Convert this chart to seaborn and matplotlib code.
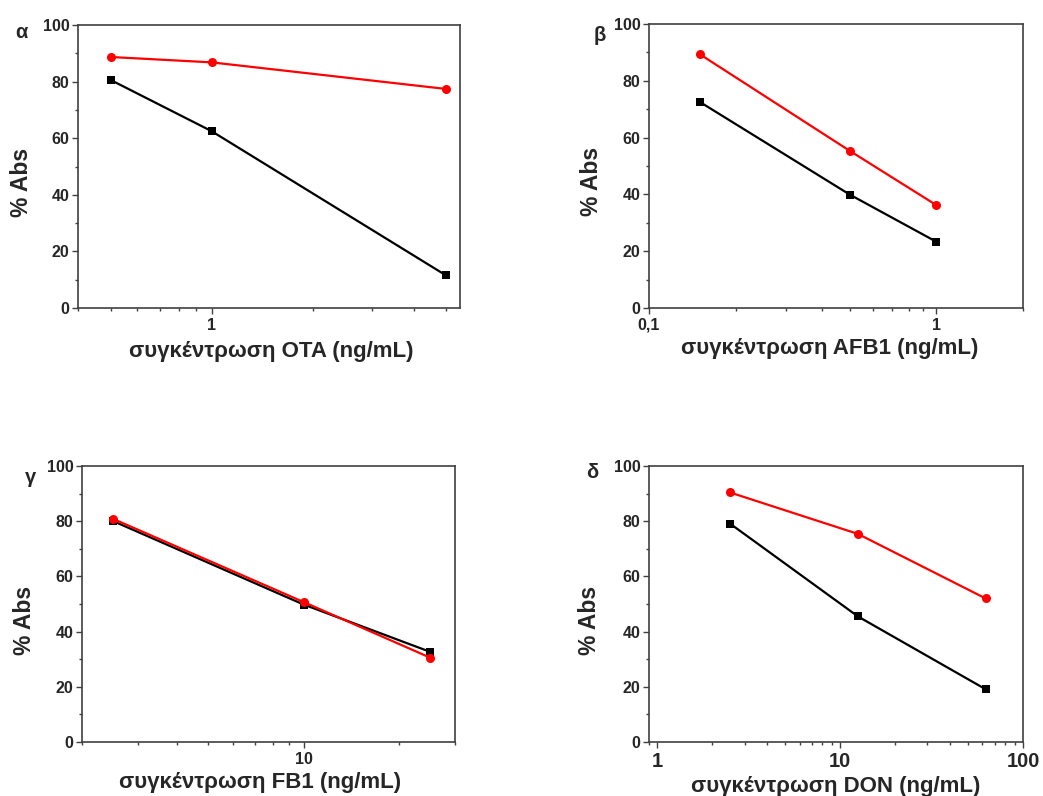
import numpy as np
import pandas as pd
import matplotlib
matplotlib.use("Agg")
import matplotlib.pyplot as plt
from matplotlib.ticker import FixedLocator, FixedFormatter, NullFormatter
import seaborn as sns

sns.set_style("ticks")
plt.rcParams["font.family"] = ["Liberation Sans", "DejaVu Sans"]
plt.rcParams["font.weight"] = "bold"

# Concentrations (ng/mL) and % absorbance for each mycotoxin
ota_conc = [0.5, 1, 5]
ota_black = [80.6, 62.5, 11.5]
ota_red = [88.7, 86.8, 77.4]

afb1_conc = [0.15, 0.5, 1]
afb1_black = [72.6, 39.9, 23.3]
afb1_red = [89.4, 55.3, 36.2]

fb1_conc = [2.5, 10, 25]
fb1_black = [80.1, 49.8, 32.7]
fb1_red = [80.9, 50.7, 30.6]

don_conc = [2.5, 12.5, 62.5]
don_black = [79.1, 45.5, 19.1]
don_red = [90.4, 75.4, 52.0]

panel_letters = ["α", "β", "γ", "δ"]
x_labels = ["συγκέντρωση OTA (ng/mL)", "συγκέντρωση AFB1 (ng/mL)",
            "συγκέντρωση FB1 (ng/mL)", "συγκέντρωση DON (ng/mL)"]
y_label = "% Abs"

W, H = 1043, 796
fig = plt.figure(figsize=(W / 100, H / 100), dpi=100)

def add_axes(l, r, t, b):
    return fig.add_axes([l / W, 1 - b / H, (r - l) / W, (b - t) / H])

panels = [
    dict(box=(78, 460, 25, 308), conc=ota_conc, black=ota_black, red=ota_red,
         xlim=(0.4, 5.5), major=[1], major_lbl=["1"],
         minor=[0.4, 0.5, 0.6, 0.7, 0.8, 0.9, 2, 3, 4, 5], xfs=11.5,
         ylab=(-0.118, 0.445), xlab=(0.505, -0.115), letter=(-0.147, 0.972)),
    dict(box=(649, 1023, 24, 308), conc=afb1_conc, black=afb1_black, red=afb1_red,
         xlim=(0.1, 2), major=[0.1, 1], major_lbl=["0,1", "1"],
         minor=[0.2, 0.3, 0.4, 0.5, 0.6, 0.7, 0.8, 0.9, 2], xfs=11.5,
         ylab=(-0.124, 0.444), xlab=(0.484, -0.104), letter=(-0.131, 0.961)),
    dict(box=(82, 455, 466, 742), conc=fb1_conc, black=fb1_black, red=fb1_red,
         xlim=(2, 30), major=[10], major_lbl=["10"],
         minor=[2, 3, 4, 5, 6, 7, 8, 9, 20, 30], xfs=11.5,
         ylab=(-0.124, 0.442), xlab=(0.477, -0.110), letter=(-0.137, 0.957)),
    dict(box=(649, 1023, 466, 742), conc=don_conc, black=don_black, red=don_red,
         xlim=(0.9, 100), major=[1, 10, 100], major_lbl=["1", "10", "100"],
         minor=[0.9] + [2, 3, 4, 5, 6, 7, 8, 9] + [20, 30, 40, 50, 60, 70, 80, 90],
         xfs=14.5,
         ylab=(-0.128, 0.44), xlab=(0.5, -0.122), letter=(-0.152, 0.975)),
]

spine_col = "#404040"

for i, p in enumerate(panels):
    ax = add_axes(*p["box"])
    sns.lineplot(x=p["conc"], y=p["black"], ax=ax, color="black", linewidth=1.6,
                 marker="s", markersize=5.5, markeredgewidth=0, markerfacecolor="black")
    sns.lineplot(x=p["conc"], y=p["red"], ax=ax, color="#ff0000", linewidth=1.6,
                 marker="o", markersize=6.5, markeredgewidth=0, markerfacecolor="#ff0000")
    ax.set_xscale("log")
    ax.set_xlim(*p["xlim"])
    ax.set_ylim(0, 100)

    ax.xaxis.set_major_locator(FixedLocator(p["major"]))
    ax.xaxis.set_major_formatter(FixedFormatter(p["major_lbl"]))
    ax.xaxis.set_minor_locator(FixedLocator(p["minor"]))
    ax.xaxis.set_minor_formatter(NullFormatter())
    ax.yaxis.set_major_locator(FixedLocator([0, 20, 40, 60, 80, 100]))
    ax.yaxis.set_minor_locator(FixedLocator([10, 30, 50, 70, 90]))

    ax.tick_params(axis="both", which="major", direction="out", length=4,
                   width=1, color=spine_col, labelsize=11.5, pad=2)
    ax.tick_params(axis="both", which="minor", direction="out", length=2.5,
                   width=1, color=spine_col)
    ax.tick_params(axis="x", which="major", labelsize=p["xfs"], pad=3)
    for lbl in ax.get_xticklabels() + ax.get_yticklabels():
        lbl.set_fontweight("bold")

    for s in ax.spines.values():
        s.set_visible(True)
        s.set_color(spine_col)
        s.set_linewidth(1.2)

    ax.set_ylabel(y_label, fontsize=16.5, fontweight="bold")
    ax.yaxis.set_label_coords(*p["ylab"])
    ax.set_xlabel(x_labels[i], fontsize=16, fontweight="bold")
    ax.xaxis.set_label_coords(*p["xlab"])
    ax.xaxis.label.set_va("top")

    ax.text(p["letter"][0], p["letter"][1], panel_letters[i], transform=ax.transAxes,
            ha="center", va="center", fontsize=14.5, fontweight="bold")

fig.savefig("out.png", dpi=100)
